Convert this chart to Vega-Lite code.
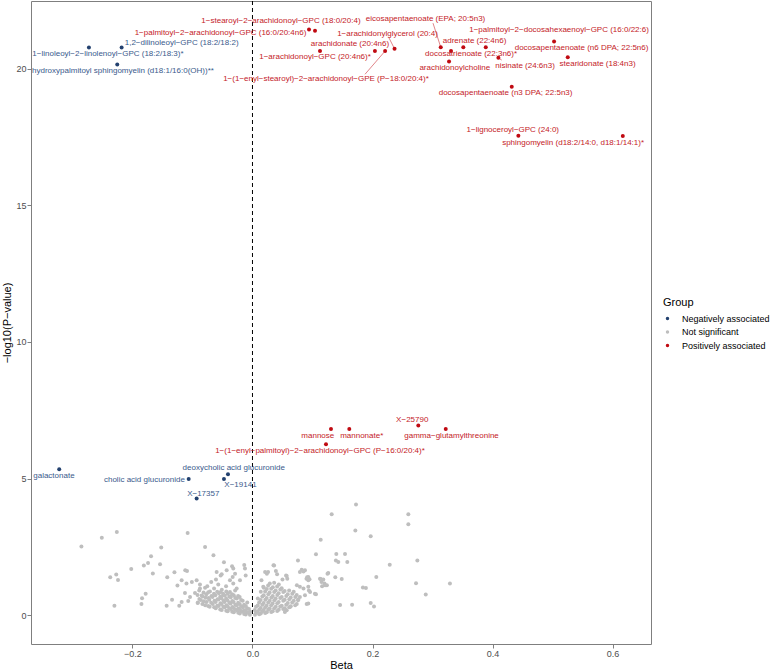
{
"$schema":"https://vega.github.io/schema/vega-lite/v6.json",
"width":620,"height":643,
"autosize":"none",
"padding":{"left":31,"top":1,"right":123,"bottom":27},
"config":{
 "font":"Liberation Sans",
 "view":{"stroke":"#7f7f7f","strokeWidth":1},
 "axis":{"grid":false,"domain":false,"tickColor":"#7f7f7f","tickSize":4,"labelFontSize":9,"labelColor":"#4d4d4d","labelPadding":1,"titleFontSize":11,"titleFontWeight":"normal","titleColor":"#000000"},
 "axisX":{"titlePadding":1},
 "axisY":{"titlePadding":3}
},
"datasets":{
"sig":[
{"name":"1−linoleoyl−2−linolenoyl−GPC (18:2/18:3)*","beta":-0.2725,"logp":20.77,"group":"Negatively associated","lx":-0.2408,"ly":20.53},
{"name":"1,2−dilinoleoyl−GPC (18:2/18:2)","beta":-0.218,"logp":20.77,"group":"Negatively associated","lx":-0.118,"ly":20.93},
{"name":"hydroxypalmitoyl sphingomyelin (d18:1/16:0(OH))**","beta":-0.2253,"logp":20.15,"group":"Negatively associated","lx":-0.2158,"ly":19.9},
{"name":"1−stearoyl−2−arachidonoyl−GPC (18:0/20:4)","beta":0.1042,"logp":21.38,"group":"Positively associated","lx":0.0475,"ly":21.73},
{"name":"1−palmitoyl−2−arachidonoyl−GPC (16:0/20:4n6)","beta":0.0942,"logp":21.43,"group":"Positively associated","lx":-0.0533,"ly":21.3},
{"name":"arachidonate (20:4n6)","beta":0.1125,"logp":20.64,"group":"Positively associated","lx":0.1625,"ly":20.89},
{"name":"1−arachidonoyl−GPC (20:4n6)*","beta":0.204,"logp":20.64,"group":"Positively associated","lx":0.1042,"ly":20.42},
{"name":"1−(1−enyl−stearoyl)−2−arachidonoyl−GPE (P−18:0/20:4)*","beta":0.221,"logp":20.64,"group":"Positively associated","lx":0.1225,"ly":19.61,"sx":0.1875,"sy":19.79},
{"name":"1−arachidonylglycerol (20:4)","beta":0.2367,"logp":20.72,"group":"Positively associated","lx":0.225,"ly":21.26,"sx":0.2275,"sy":21.12},
{"name":"eicosapentaenoate (EPA; 20:5n3)","beta":0.3137,"logp":20.78,"group":"Positively associated","lx":0.2883,"ly":21.81,"sx":0.3008,"sy":21.66},
{"name":"adrenate (22:4n6)","beta":0.3513,"logp":20.78,"group":"Positively associated","lx":0.37,"ly":21.0},
{"name":"docosatrienoate (22:3n6)*","beta":0.3308,"logp":20.64,"group":"Positively associated","lx":0.3642,"ly":20.53},
{"name":"arachidonoylcholine","beta":0.3275,"logp":20.26,"group":"Positively associated","lx":0.337,"ly":20.01},
{"name":"nisinate (24:6n3)","beta":0.4097,"logp":20.39,"group":"Positively associated","lx":0.4542,"ly":20.09,"sx":0.4153,"sy":20.31},
{"name":"1−palmitoyl−2−docosahexaenoyl−GPC (16:0/22:6)","beta":0.3887,"logp":20.78,"group":"Positively associated","lx":0.5108,"ly":21.4},
{"name":"docosapentaenoate (n6 DPA; 22:5n6)","beta":0.5025,"logp":20.99,"group":"Positively associated","lx":0.5483,"ly":20.75},
{"name":"stearidonate (18:4n3)","beta":0.5253,"logp":20.41,"group":"Positively associated","lx":0.575,"ly":20.16},
{"name":"docosapentaenoate (n3 DPA; 22:5n3)","beta":0.432,"logp":19.33,"group":"Positively associated","lx":0.4217,"ly":19.1},
{"name":"1−lignoceroyl−GPC (24:0)","beta":0.443,"logp":17.54,"group":"Positively associated","lx":0.4337,"ly":17.75},
{"name":"sphingomyelin (d18:2/14:0, d18:1/14:1)*","beta":0.617,"logp":17.53,"group":"Positively associated","lx":0.5342,"ly":17.27},
{"name":"galactonate","beta":-0.322,"logp":5.34,"group":"Negatively associated","lx":-0.3308,"ly":5.09},
{"name":"cholic acid glucuronide","beta":-0.1063,"logp":4.99,"group":"Negatively associated","lx":-0.18,"ly":4.95},
{"name":"deoxycholic acid glucuronide","beta":-0.0408,"logp":5.16,"group":"Negatively associated","lx":-0.0312,"ly":5.37},
{"name":"X−19141","beta":-0.0475,"logp":4.99,"group":"Negatively associated","lx":-0.02,"ly":4.75},
{"name":"X−17357","beta":-0.093,"logp":4.27,"group":"Negatively associated","lx":-0.082,"ly":4.45},
{"name":"mannose","beta":0.1308,"logp":6.81,"group":"Positively associated","lx":0.1088,"ly":6.55},
{"name":"mannonate*","beta":0.1613,"logp":6.81,"group":"Positively associated","lx":0.182,"ly":6.55},
{"name":"X−25790","beta":0.2763,"logp":6.94,"group":"Positively associated","lx":0.2662,"ly":7.16},
{"name":"gamma−glutamylthreonine","beta":0.322,"logp":6.81,"group":"Positively associated","lx":0.3317,"ly":6.55},
{"name":"1−(1−enyl−palmitoyl)−2−arachidonoyl−GPC (P−16:0/20:4)*","beta":0.1225,"logp":6.26,"group":"Positively associated","lx":0.1125,"ly":6.0}
],
"ns":[
{"beta":-0.285,"logp":2.52,"group":"Not significant"},{"beta":-0.251,"logp":2.84,"group":"Not significant"},{"beta":-0.226,"logp":3.05,"group":"Not significant"},{"beta":-0.108,"logp":3.01,"group":"Not significant"},{"beta":-0.152,"logp":2.48,"group":"Not significant"},{"beta":-0.079,"logp":2.5,"group":"Not significant"},{"beta":-0.169,"logp":2.16,"group":"Not significant"},{"beta":-0.065,"logp":2.2,"group":"Not significant"},{"beta":-0.174,"logp":1.91,"group":"Not significant"},{"beta":-0.181,"logp":1.82,"group":"Not significant"},{"beta":-0.154,"logp":1.87,"group":"Not significant"},{"beta":-0.202,"logp":1.69,"group":"Not significant"},{"beta":-0.166,"logp":1.53,"group":"Not significant"},{"beta":-0.13,"logp":1.57,"group":"Not significant"},{"beta":-0.142,"logp":1.39,"group":"Not significant"},{"beta":-0.237,"logp":1.39,"group":"Not significant"},{"beta":-0.227,"logp":1.49,"group":"Not significant"},{"beta":-0.224,"logp":1.29,"group":"Not significant"},{"beta":-0.23,"logp":0.35,"group":"Not significant"},{"beta":-0.185,"logp":0.41,"group":"Not significant"},{"beta":-0.184,"logp":0.62,"group":"Not significant"},{"beta":-0.178,"logp":0.79,"group":"Not significant"},{"beta":-0.143,"logp":0.35,"group":"Not significant"},{"beta":-0.134,"logp":0.57,"group":"Not significant"},{"beta":-0.122,"logp":0.35,"group":"Not significant"},{"beta":-0.112,"logp":1.65,"group":"Not significant"},{"beta":-0.109,"logp":1.62,"group":"Not significant"},{"beta":-0.118,"logp":1.28,"group":"Not significant"},{"beta":-0.0475,"logp":1.94,"group":"Not significant"},{"beta":-0.034,"logp":1.79,"group":"Not significant"},{"beta":-0.032,"logp":1.71,"group":"Not significant"},{"beta":-0.0137,"logp":1.84,"group":"Not significant"},{"beta":-0.0125,"logp":1.71,"group":"Not significant"},{"beta":-0.043,"logp":1.65,"group":"Not significant"},{"beta":-0.053,"logp":1.46,"group":"Not significant"},{"beta":-0.033,"logp":1.4,"group":"Not significant"},{"beta":-0.125,"logp":1.09,"group":"Not significant"},
{"beta":-0.11,"logp":1.16,"group":"Not significant"},{"beta":-0.101,"logp":1.22,"group":"Not significant"},{"beta":-0.093,"logp":1.28,"group":"Not significant"},{"beta":-0.0875,"logp":1.13,"group":"Not significant"},{"beta":-0.079,"logp":1.01,"group":"Not significant"},{"beta":-0.0887,"logp":0.91,"group":"Not significant"},{"beta":-0.0753,"logp":1.06,"group":"Not significant"},{"beta":-0.0687,"logp":1.22,"group":"Not significant"},{"beta":-0.0608,"logp":1.31,"group":"Not significant"},{"beta":-0.057,"logp":1.13,"group":"Not significant"},{"beta":-0.064,"logp":0.98,"group":"Not significant"},{"beta":-0.0737,"logp":0.84,"group":"Not significant"},{"beta":-0.053,"logp":0.85,"group":"Not significant"},{"beta":-0.0487,"logp":0.73,"group":"Not significant"},{"beta":-0.0847,"logp":0.72,"group":"Not significant"},{"beta":-0.0958,"logp":0.82,"group":"Not significant"},{"beta":-0.104,"logp":0.67,"group":"Not significant"},{"beta":-0.1125,"logp":0.82,"group":"Not significant"},{"beta":-0.107,"logp":0.52,"group":"Not significant"},{"beta":-0.0913,"logp":0.45,"group":"Not significant"},{"beta":-0.118,"logp":0.49,"group":"Not significant"},{"beta":-0.0875,"logp":0.98,"group":"Not significant"},{"beta":-0.044,"logp":1.06,"group":"Not significant"},{"beta":-0.0375,"logp":1.28,"group":"Not significant"},{"beta":-0.032,"logp":1.16,"group":"Not significant"},{"beta":-0.0263,"logp":0.98,"group":"Not significant"},{"beta":-0.0208,"logp":1.28,"group":"Not significant"},{"beta":-0.0375,"logp":0.85,"group":"Not significant"},{"beta":-0.0113,"logp":1.46,"group":"Not significant"},{"beta":-0.0513,"logp":1.5,"group":"Not significant"},{"beta":-0.0597,"logp":1.58,"group":"Not significant"},{"beta":-0.029,"logp":1.52,"group":"Not significant"},
{"beta":-0.091,"logp":0.47,"group":"Not significant"},{"beta":-0.0885,"logp":0.6,"group":"Not significant"},{"beta":-0.0915,"logp":0.74,"group":"Not significant"},
{"beta":-0.0835,"logp":0.41,"group":"Not significant"},{"beta":-0.0862,"logp":0.56,"group":"Not significant"},{"beta":-0.0828,"logp":0.69,"group":"Not significant"},
{"beta":-0.0788,"logp":0.37,"group":"Not significant"},{"beta":-0.0812,"logp":0.51,"group":"Not significant"},{"beta":-0.0779,"logp":0.64,"group":"Not significant"},{"beta":-0.0815,"logp":0.83,"group":"Not significant"},
{"beta":-0.0738,"logp":0.34,"group":"Not significant"},{"beta":-0.0764,"logp":0.49,"group":"Not significant"},{"beta":-0.0731,"logp":0.63,"group":"Not significant"},{"beta":-0.0768,"logp":0.77,"group":"Not significant"},
{"beta":-0.0713,"logp":0.31,"group":"Not significant"},{"beta":-0.0688,"logp":0.46,"group":"Not significant"},{"beta":-0.0719,"logp":0.57,"group":"Not significant"},{"beta":-0.0684,"logp":0.71,"group":"Not significant"},{"beta":-0.0709,"logp":0.87,"group":"Not significant"},
{"beta":-0.0638,"logp":0.29,"group":"Not significant"},{"beta":-0.0662,"logp":0.41,"group":"Not significant"},{"beta":-0.0633,"logp":0.53,"group":"Not significant"},{"beta":-0.0667,"logp":0.67,"group":"Not significant"},{"beta":-0.0641,"logp":0.79,"group":"Not significant"},
{"beta":-0.0612,"logp":0.26,"group":"Not significant"},{"beta":-0.0587,"logp":0.35,"group":"Not significant"},{"beta":-0.0614,"logp":0.49,"group":"Not significant"},{"beta":-0.0583,"logp":0.59,"group":"Not significant"},{"beta":-0.0619,"logp":0.73,"group":"Not significant"},{"beta":-0.0588,"logp":0.86,"group":"Not significant"},
{"beta":-0.0537,"logp":0.21,"group":"Not significant"},{"beta":-0.0563,"logp":0.34,"group":"Not significant"},{"beta":-0.0534,"logp":0.44,"group":"Not significant"},{"beta":-0.0566,"logp":0.58,"group":"Not significant"},{"beta":-0.0538,"logp":0.68,"group":"Not significant"},{"beta":-0.0561,"logp":0.81,"group":"Not significant"},
{"beta":-0.0512,"logp":0.19,"group":"Not significant"},{"beta":-0.0486,"logp":0.31,"group":"Not significant"},{"beta":-0.0515,"logp":0.41,"group":"Not significant"},{"beta":-0.0483,"logp":0.53,"group":"Not significant"},{"beta":-0.0518,"logp":0.62,"group":"Not significant"},{"beta":-0.0489,"logp":0.79,"group":"Not significant"},{"beta":-0.0511,"logp":0.93,"group":"Not significant"},
{"beta":-0.0437,"logp":0.17,"group":"Not significant"},{"beta":-0.0462,"logp":0.29,"group":"Not significant"},{"beta":-0.0434,"logp":0.37,"group":"Not significant"},{"beta":-0.0466,"logp":0.49,"group":"Not significant"},{"beta":-0.0439,"logp":0.61,"group":"Not significant"},{"beta":-0.0461,"logp":0.72,"group":"Not significant"},{"beta":-0.0436,"logp":0.87,"group":"Not significant"},
{"beta":-0.0413,"logp":0.15,"group":"Not significant"},{"beta":-0.0387,"logp":0.25,"group":"Not significant"},{"beta":-0.0414,"logp":0.33,"group":"Not significant"},{"beta":-0.0386,"logp":0.46,"group":"Not significant"},{"beta":-0.0416,"logp":0.55,"group":"Not significant"},{"beta":-0.0384,"logp":0.69,"group":"Not significant"},{"beta":-0.0412,"logp":0.79,"group":"Not significant"},
{"beta":-0.0338,"logp":0.13,"group":"Not significant"},{"beta":-0.0362,"logp":0.23,"group":"Not significant"},{"beta":-0.0336,"logp":0.3,"group":"Not significant"},{"beta":-0.0364,"logp":0.43,"group":"Not significant"},{"beta":-0.0337,"logp":0.52,"group":"Not significant"},{"beta":-0.0363,"logp":0.66,"group":"Not significant"},{"beta":-0.0339,"logp":0.77,"group":"Not significant"},
{"beta":-0.0311,"logp":0.11,"group":"Not significant"},{"beta":-0.0288,"logp":0.21,"group":"Not significant"},{"beta":-0.0313,"logp":0.27,"group":"Not significant"},{"beta":-0.0286,"logp":0.39,"group":"Not significant"},{"beta":-0.0314,"logp":0.49,"group":"Not significant"},{"beta":-0.0287,"logp":0.63,"group":"Not significant"},{"beta":-0.0312,"logp":0.73,"group":"Not significant"},{"beta":-0.0289,"logp":0.91,"group":"Not significant"},
{"beta":-0.0237,"logp":0.09,"group":"Not significant"},{"beta":-0.0262,"logp":0.18,"group":"Not significant"},{"beta":-0.0236,"logp":0.25,"group":"Not significant"},{"beta":-0.0263,"logp":0.37,"group":"Not significant"},{"beta":-0.0238,"logp":0.46,"group":"Not significant"},{"beta":-0.0261,"logp":0.61,"group":"Not significant"},{"beta":-0.0239,"logp":0.71,"group":"Not significant"},
{"beta":-0.0211,"logp":0.07,"group":"Not significant"},{"beta":-0.0188,"logp":0.16,"group":"Not significant"},{"beta":-0.0212,"logp":0.21,"group":"Not significant"},{"beta":-0.0187,"logp":0.33,"group":"Not significant"},{"beta":-0.0213,"logp":0.41,"group":"Not significant"},{"beta":-0.0189,"logp":0.56,"group":"Not significant"},{"beta":-0.0214,"logp":0.67,"group":"Not significant"},
{"beta":-0.0138,"logp":0.05,"group":"Not significant"},{"beta":-0.0161,"logp":0.13,"group":"Not significant"},{"beta":-0.0137,"logp":0.18,"group":"Not significant"},{"beta":-0.0162,"logp":0.29,"group":"Not significant"},{"beta":-0.0139,"logp":0.39,"group":"Not significant"},{"beta":-0.0163,"logp":0.53,"group":"Not significant"},
{"beta":-0.0112,"logp":0.03,"group":"Not significant"},{"beta":-0.0089,"logp":0.11,"group":"Not significant"},{"beta":-0.0113,"logp":0.15,"group":"Not significant"},{"beta":-0.0088,"logp":0.26,"group":"Not significant"},{"beta":-0.0111,"logp":0.34,"group":"Not significant"},{"beta":-0.0087,"logp":0.47,"group":"Not significant"},
{"beta":-0.0043,"logp":0.02,"group":"Not significant"},{"beta":-0.0061,"logp":0.09,"group":"Not significant"},{"beta":-0.0039,"logp":0.13,"group":"Not significant"},{"beta":-0.0058,"logp":0.23,"group":"Not significant"},
{"beta":0.1725,"logp":4.05,"group":"Not significant"},{"beta":0.132,"logp":3.7,"group":"Not significant"},{"beta":0.2597,"logp":3.7,"group":"Not significant"},{"beta":0.2597,"logp":3.33,"group":"Not significant"},{"beta":0.1714,"logp":3.1,"group":"Not significant"},{"beta":0.197,"logp":2.89,"group":"Not significant"},{"beta":0.1137,"logp":2.76,"group":"Not significant"},{"beta":0.1058,"logp":2.23,"group":"Not significant"},{"beta":0.1397,"logp":2.24,"group":"Not significant"},{"beta":0.1542,"logp":2.24,"group":"Not significant"},{"beta":0.139,"logp":2.0,"group":"Not significant"},{"beta":0.143,"logp":1.95,"group":"Not significant"},{"beta":0.158,"logp":1.95,"group":"Not significant"},{"beta":0.2287,"logp":1.85,"group":"Not significant"},{"beta":0.2747,"logp":2.0,"group":"Not significant"},{"beta":0.1263,"logp":1.55,"group":"Not significant"},{"beta":0.2063,"logp":1.4,"group":"Not significant"},{"beta":0.138,"logp":1.39,"group":"Not significant"},{"beta":0.1487,"logp":1.33,"group":"Not significant"},{"beta":0.1137,"logp":1.33,"group":"Not significant"},{"beta":0.118,"logp":1.31,"group":"Not significant"},{"beta":0.12,"logp":1.16,"group":"Not significant"},{"beta":0.124,"logp":1.1,"group":"Not significant"},{"beta":0.116,"logp":1.06,"group":"Not significant"},{"beta":0.184,"logp":1.02,"group":"Not significant"},{"beta":0.189,"logp":1.0,"group":"Not significant"},{"beta":0.2725,"logp":1.17,"group":"Not significant"},{"beta":0.329,"logp":1.16,"group":"Not significant"},{"beta":0.2887,"logp":0.76,"group":"Not significant"},{"beta":0.1058,"logp":0.77,"group":"Not significant"},{"beta":0.0903,"logp":0.41,"group":"Not significant"},{"beta":0.146,"logp":0.38,"group":"Not significant"},{"beta":0.166,"logp":0.39,"group":"Not significant"},{"beta":0.197,"logp":0.45,"group":"Not significant"},{"beta":0.2025,"logp":0.32,"group":"Not significant"},{"beta":0.094,"logp":0.91,"group":"Not significant"},{"beta":0.091,"logp":1.39,"group":"Not significant"},{"beta":0.095,"logp":1.32,"group":"Not significant"},{"beta":0.0758,"logp":2.0,"group":"Not significant"},{"beta":0.036,"logp":1.82,"group":"Not significant"},{"beta":0.026,"logp":1.58,"group":"Not significant"},{"beta":0.039,"logp":1.62,"group":"Not significant"},{"beta":0.041,"logp":1.5,"group":"Not significant"},{"beta":0.057,"logp":1.44,"group":"Not significant"},{"beta":0.05,"logp":1.31,"group":"Not significant"},{"beta":0.082,"logp":1.67,"group":"Not significant"},{"beta":0.0875,"logp":1.65,"group":"Not significant"},{"beta":0.079,"logp":1.58,"group":"Not significant"},{"beta":0.09,"logp":1.34,"group":"Not significant"},{"beta":0.093,"logp":1.28,"group":"Not significant"},{"beta":0.076,"logp":0.55,"group":"Not significant"},{"beta":0.057,"logp":0.18,"group":"Not significant"},{"beta":0.0625,"logp":0.3,"group":"Not significant"},{"beta":0.015,"logp":1.28,"group":"Not significant"},{"beta":0.018,"logp":1.04,"group":"Not significant"},{"beta":0.035,"logp":1.83,"group":"Not significant"},{"beta":0.021,"logp":1.58,"group":"Not significant"},{"beta":0.024,"logp":1.52,"group":"Not significant"},{"beta":0.056,"logp":1.46,"group":"Not significant"},{"beta":0.058,"logp":1.34,"group":"Not significant"},{"beta":0.085,"logp":1.6,"group":"Not significant"},{"beta":0.093,"logp":1.4,"group":"Not significant"},{"beta":0.1125,"logp":1.34,"group":"Not significant"},{"beta":0.115,"logp":1.22,"group":"Not significant"},{"beta":0.121,"logp":1.1,"group":"Not significant"},{"beta":0.125,"logp":1.52,"group":"Not significant"},{"beta":0.093,"logp":0.43,"group":"Not significant"},{"beta":0.054,"logp":0.12,"group":"Not significant"},{"beta":0.079,"logp":0.67,"group":"Not significant"},{"beta":0.0875,"logp":0.73,"group":"Not significant"},{"beta":0.096,"logp":0.85,"group":"Not significant"},{"beta":0.093,"logp":1.04,"group":"Not significant"},{"beta":0.074,"logp":1.1,"group":"Not significant"},{"beta":0.079,"logp":1.04,"group":"Not significant"},{"beta":0.085,"logp":0.98,"group":"Not significant"},{"beta":0.104,"logp":0.79,"group":"Not significant"},
{"beta":0.0042,"logp":0.02,"group":"Not significant"},{"beta":0.0061,"logp":0.11,"group":"Not significant"},{"beta":0.0038,"logp":0.19,"group":"Not significant"},{"beta":0.0059,"logp":0.31,"group":"Not significant"},
{"beta":0.0112,"logp":0.04,"group":"Not significant"},{"beta":0.0088,"logp":0.13,"group":"Not significant"},{"beta":0.0113,"logp":0.21,"group":"Not significant"},{"beta":0.0087,"logp":0.36,"group":"Not significant"},{"beta":0.0111,"logp":0.47,"group":"Not significant"},{"beta":0.0089,"logp":0.61,"group":"Not significant"},
{"beta":0.0138,"logp":0.07,"group":"Not significant"},{"beta":0.0162,"logp":0.14,"group":"Not significant"},{"beta":0.0137,"logp":0.27,"group":"Not significant"},{"beta":0.0163,"logp":0.39,"group":"Not significant"},{"beta":0.0136,"logp":0.56,"group":"Not significant"},{"beta":0.0164,"logp":0.69,"group":"Not significant"},{"beta":0.0139,"logp":0.86,"group":"Not significant"},
{"beta":0.0212,"logp":0.08,"group":"Not significant"},{"beta":0.0188,"logp":0.19,"group":"Not significant"},{"beta":0.0213,"logp":0.29,"group":"Not significant"},{"beta":0.0186,"logp":0.45,"group":"Not significant"},{"beta":0.0214,"logp":0.57,"group":"Not significant"},{"beta":0.0187,"logp":0.73,"group":"Not significant"},{"beta":0.0211,"logp":0.87,"group":"Not significant"},{"beta":0.0189,"logp":1.01,"group":"Not significant"},
{"beta":0.0238,"logp":0.11,"group":"Not significant"},{"beta":0.0262,"logp":0.2,"group":"Not significant"},{"beta":0.0236,"logp":0.35,"group":"Not significant"},{"beta":0.0263,"logp":0.47,"group":"Not significant"},{"beta":0.0237,"logp":0.63,"group":"Not significant"},{"beta":0.0264,"logp":0.77,"group":"Not significant"},{"beta":0.0239,"logp":0.96,"group":"Not significant"},{"beta":0.0261,"logp":1.09,"group":"Not significant"},
{"beta":0.0313,"logp":0.12,"group":"Not significant"},{"beta":0.0287,"logp":0.25,"group":"Not significant"},{"beta":0.0312,"logp":0.37,"group":"Not significant"},{"beta":0.0288,"logp":0.53,"group":"Not significant"},{"beta":0.0314,"logp":0.65,"group":"Not significant"},{"beta":0.0286,"logp":0.83,"group":"Not significant"},{"beta":0.0311,"logp":0.97,"group":"Not significant"},{"beta":0.0289,"logp":1.16,"group":"Not significant"},
{"beta":0.0337,"logp":0.15,"group":"Not significant"},{"beta":0.0363,"logp":0.26,"group":"Not significant"},{"beta":0.0336,"logp":0.43,"group":"Not significant"},{"beta":0.0364,"logp":0.55,"group":"Not significant"},{"beta":0.0338,"logp":0.71,"group":"Not significant"},{"beta":0.0362,"logp":0.85,"group":"Not significant"},{"beta":0.0339,"logp":1.03,"group":"Not significant"},{"beta":0.0361,"logp":1.19,"group":"Not significant"},
{"beta":0.0412,"logp":0.16,"group":"Not significant"},{"beta":0.0388,"logp":0.31,"group":"Not significant"},{"beta":0.0413,"logp":0.44,"group":"Not significant"},{"beta":0.0387,"logp":0.61,"group":"Not significant"},{"beta":0.0414,"logp":0.74,"group":"Not significant"},{"beta":0.0386,"logp":0.91,"group":"Not significant"},{"beta":0.0411,"logp":1.05,"group":"Not significant"},
{"beta":0.0438,"logp":0.2,"group":"Not significant"},{"beta":0.0462,"logp":0.32,"group":"Not significant"},{"beta":0.0437,"logp":0.49,"group":"Not significant"},{"beta":0.0463,"logp":0.63,"group":"Not significant"},{"beta":0.0436,"logp":0.81,"group":"Not significant"},{"beta":0.0464,"logp":0.94,"group":"Not significant"},{"beta":0.0439,"logp":1.13,"group":"Not significant"},
{"beta":0.0512,"logp":0.23,"group":"Not significant"},{"beta":0.0488,"logp":0.35,"group":"Not significant"},{"beta":0.0513,"logp":0.53,"group":"Not significant"},{"beta":0.0487,"logp":0.67,"group":"Not significant"},{"beta":0.0514,"logp":0.85,"group":"Not significant"},{"beta":0.0486,"logp":0.99,"group":"Not significant"},
{"beta":0.0538,"logp":0.26,"group":"Not significant"},{"beta":0.0562,"logp":0.39,"group":"Not significant"},{"beta":0.0537,"logp":0.57,"group":"Not significant"},{"beta":0.0563,"logp":0.71,"group":"Not significant"},{"beta":0.0536,"logp":0.89,"group":"Not significant"},
{"beta":0.0612,"logp":0.29,"group":"Not significant"},{"beta":0.0588,"logp":0.45,"group":"Not significant"},{"beta":0.0613,"logp":0.59,"group":"Not significant"},{"beta":0.0587,"logp":0.77,"group":"Not significant"},{"beta":0.0611,"logp":0.91,"group":"Not significant"},
{"beta":0.0638,"logp":0.33,"group":"Not significant"},{"beta":0.0662,"logp":0.47,"group":"Not significant"},{"beta":0.0637,"logp":0.65,"group":"Not significant"},{"beta":0.0663,"logp":0.79,"group":"Not significant"},
{"beta":0.0712,"logp":0.37,"group":"Not significant"},{"beta":0.0688,"logp":0.53,"group":"Not significant"},{"beta":0.0713,"logp":0.67,"group":"Not significant"},{"beta":0.0687,"logp":0.86,"group":"Not significant"},
{"beta":0.0738,"logp":0.41,"group":"Not significant"},{"beta":0.0762,"logp":0.59,"group":"Not significant"},{"beta":0.0737,"logp":0.74,"group":"Not significant"}
]
},
"layer":[
{"data":{"values":[{}]},
 "mark":{"type":"rule","color":"#000000","strokeDash":[4,3],"strokeWidth":1},
 "encoding":{"x":{"datum":0,"type":"quantitative","scale":{"domain":[-0.369,0.664],"nice":false,"zero":false},"title":"Beta","axis":{"values":[-0.2,0,0.2,0.4,0.6],"format":".1f"}}}},
{"data":{"name":"ns"},
 "mark":{"type":"circle","size":16,"opacity":1},
 "encoding":{
  "x":{"field":"beta","type":"quantitative","scale":{"domain":[-0.369,0.664],"nice":false,"zero":false},"title":"Beta","axis":{"values":[-0.2,0,0.2,0.4,0.6],"format":".1f"}},
  "y":{"field":"logp","type":"quantitative","scale":{"domain":[-1.05,22.47],"nice":false,"zero":false},"title":"−log10(P−value)","axis":{"values":[0,5,10,15,20]}},
  "color":{"field":"group","type":"nominal","scale":{"domain":["Negatively associated","Not significant","Positively associated"],"range":["#23416F","#BEBEBE","#C00A12"]},
   "legend":{"title":"Group","orient":"none","legendX":632,"legendY":296,"titleFontSize":11,"titleFontWeight":"normal","titleColor":"#000000","labelFontSize":9,"labelColor":"#000000","symbolSize":12,"symbolType":"circle","rowPadding":3.5,"titlePadding":6,"labelOffset":10}}}},
{"data":{"name":"sig"},
 "transform":[{"filter":"isValid(datum.sx)"}],
 "mark":{"type":"rule","color":"#C00A12","strokeWidth":0.5},
 "encoding":{
  "x":{"field":"sx","type":"quantitative","scale":{"domain":[-0.369,0.664],"nice":false,"zero":false},"title":"Beta","axis":{"values":[-0.2,0,0.2,0.4,0.6],"format":".1f"}},
  "y":{"field":"sy","type":"quantitative","scale":{"domain":[-1.05,22.47],"nice":false,"zero":false},"title":"−log10(P−value)","axis":{"values":[0,5,10,15,20]}},
  "x2":{"field":"beta"},"y2":{"field":"logp"}}},
{"data":{"name":"sig"},
 "mark":{"type":"circle","size":16,"opacity":1},
 "encoding":{
  "x":{"field":"beta","type":"quantitative","scale":{"domain":[-0.369,0.664],"nice":false,"zero":false},"title":"Beta","axis":{"values":[-0.2,0,0.2,0.4,0.6],"format":".1f"}},
  "y":{"field":"logp","type":"quantitative","scale":{"domain":[-1.05,22.47],"nice":false,"zero":false},"title":"−log10(P−value)","axis":{"values":[0,5,10,15,20]}},
  "color":{"field":"group","type":"nominal","scale":{"domain":["Negatively associated","Not significant","Positively associated"],"range":["#23416F","#BEBEBE","#C00A12"]},
   "legend":{"title":"Group","orient":"none","legendX":632,"legendY":296,"titleFontSize":11,"titleFontWeight":"normal","titleColor":"#000000","labelFontSize":9,"labelColor":"#000000","symbolSize":12,"symbolType":"circle","rowPadding":3.5,"titlePadding":6,"labelOffset":10}}}},
{"data":{"name":"sig"},
 "mark":{"type":"text","fontSize":8,"align":"center","baseline":"middle","font":"Liberation Sans"},
 "encoding":{
  "x":{"field":"lx","type":"quantitative","scale":{"domain":[-0.369,0.664],"nice":false,"zero":false},"title":"Beta","axis":{"values":[-0.2,0,0.2,0.4,0.6],"format":".1f"}},
  "y":{"field":"ly","type":"quantitative","scale":{"domain":[-1.05,22.47],"nice":false,"zero":false},"title":"−log10(P−value)","axis":{"values":[0,5,10,15,20]}},
  "text":{"field":"name","type":"nominal"},
  "fill":{"condition":{"test":"datum.group === 'Negatively associated'","value":"#3A5A8C"},"value":"#C42127"}}}
]
}
